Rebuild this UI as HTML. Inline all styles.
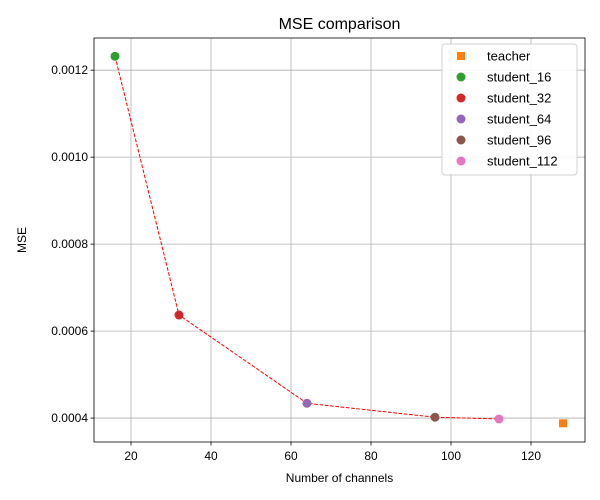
<!DOCTYPE html>
<html><head><meta charset="utf-8"><style>
body{margin:0;background:#fff;}
svg{display:block;font-family:"Liberation Sans","DejaVu Sans",sans-serif;}
</style></head><body>
<svg id="c" width="600" height="500"></svg>
<script>
const labels=["student_16","student_32","student_64","student_96","student_112"];
const channels=[16,32,64,96,112];
const mse=[0.001232,0.000637,0.000434,0.000402,0.000398];
const colors=["#2ca02c","#d62728","#9467bd","#8c564b","#e377c2"];
const teacherX=[128];
const teacherY=[0.000388];
const xTicks=[20,40,60,80,100,120];
const yTicks=[0.0004,0.0006,0.0008,0.0010,0.0012];
const L=94,R=585,T=38,B=442;
const xMin=10.75,xMax=133.5,yMin=0.000345,yMax=0.001274;
const sx=v=>L+(v-xMin)/(xMax-xMin)*(R-L);
const sy=v=>B-(v-yMin)/(yMax-yMin)*(B-T);
const svg=document.getElementById('c');
const NS="http://www.w3.org/2000/svg";
function mk(t,a,p){const e=document.createElementNS(NS,t);for(const k in a)e.setAttribute(k,a[k]);(p||svg).appendChild(e);return e;}
let e;
e=mk('rect',{x:L,y:T,width:R-L,height:B-T,fill:'#fff'});


xTicks.forEach(v=>{const x=sx(v);
e=mk('line',{x1:x,x2:x,y1:T,y2:B,stroke:'#b0b0b0','stroke-width':0.8});


mk('line',{x1:x,x2:x,y1:B,y2:B+3.5,stroke:'#000','stroke-width':0.8});
e=mk('text',{x:x,y:B+18,'text-anchor':'middle','font-size':12});e.textContent=v;


});
yTicks.forEach(v=>{const y=sy(v);
e=mk('line',{x1:L,x2:R,y1:y,y2:y,stroke:'#b0b0b0','stroke-width':0.8});


mk('line',{x1:L-3.5,x2:L,y1:y,y2:y,stroke:'#000','stroke-width':0.8});
e=mk('text',{x:L-6,y:y+4,'text-anchor':'end','font-size':12});e.textContent=v.toFixed(4);


});
e=mk('polyline',{points:channels.map((c,i)=>sx(c)+','+sy(mse[i])).join(' '),fill:'none',stroke:'#ff0000','stroke-width':1,'stroke-dasharray':'3.7,1.6'});


channels.forEach((c,i)=>{
e=mk('circle',{cx:sx(c),cy:sy(mse[i]),r:4.5,fill:colors[i]});


});
teacherX.forEach((c,i)=>{
e=mk('rect',{x:sx(c)-4,y:sy(teacherY[i])-4,width:8,height:8,fill:'#ff7f0e'});


});
e=mk('rect',{x:L,y:T,width:R-L,height:B-T,fill:'none',stroke:'#000','stroke-width':0.8});


e=mk('text',{x:(L+R)/2,y:29,'text-anchor':'middle','font-size':16});e.textContent='MSE comparison';


e=mk('text',{x:(L+R)/2,y:482,'text-anchor':'middle','font-size':12});e.textContent='Number of channels';


e=mk('text',{x:26,y:(T+B)/2,'text-anchor':'middle','font-size':12,transform:`rotate(-90 26 ${(T+B)/2})`});e.textContent='MSE';


const lg=mk('g',{});


mk('rect',{x:442,y:44,width:135,height:131,rx:3,fill:'#fff',stroke:'#ccc','stroke-width':1,opacity:0.9},lg);
const ent=[["teacher","#ff7f0e",true]].concat(labels.map((l,i)=>[l,colors[i],false]));
ent.forEach((en,i)=>{const y=56+i*21;
const g=mk('g',{},lg);


if(en[2])mk('rect',{x:457,y:y-4,width:8,height:8,fill:en[1]},g);
else mk('circle',{cx:461,cy:y,r:4.5,fill:en[1]},g);
const t=mk('text',{x:487,y:y+4.5,'font-size':13},g);t.textContent=en[0];
});
</script>
</body></html>
